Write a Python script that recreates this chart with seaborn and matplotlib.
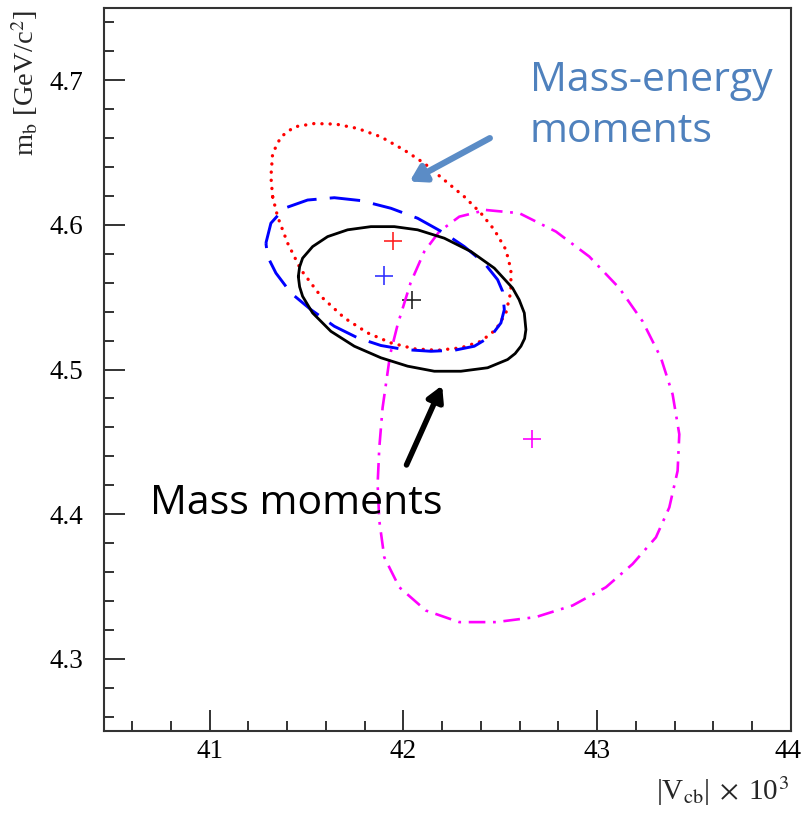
import numpy as np
import pandas as pd
import matplotlib
matplotlib.use("Agg")
import matplotlib.pyplot as plt
import matplotlib.patheffects as pe
import matplotlib.transforms as mtransforms
import seaborn as sns

# ---------------- data ----------------
# Contours in (|Vcb| x 1e3, m_b [GeV/c^2])
black_x = [41.4577, 41.4644, 41.4799, 41.5315, 41.6089, 41.7121, 41.8323, 41.9530, 42.0733,
           42.2111, 42.3483, 42.4690, 42.5635, 42.5970, 42.6238, 42.6321, 42.6254, 42.6063,
           42.5764, 42.5377, 42.4345, 42.2967, 42.1594, 42.0217, 41.8839, 41.7466, 41.6259,
           41.5315, 41.4799, 41.4644]
black_y = [4.5643, 4.5710, 4.5770, 4.5850, 4.5919, 4.5966, 4.5988, 4.5988, 4.5966,
           4.5908, 4.5816, 4.5701, 4.5563, 4.5483, 4.5391, 4.5276, 4.5214, 4.5161,
           4.5110, 4.5069, 4.5012, 4.4988, 4.4988, 4.5023, 4.5081, 4.5161, 4.5264,
           4.5391, 4.5506, 4.5572]

blue_x = [41.2905, 41.3163, 41.3854, 41.5057, 41.6434, 41.7807, 41.9355, 42.0733, 42.2111,
          42.3143, 42.4174, 42.4861, 42.5119, 42.5207, 42.5031, 42.4515, 42.3658, 42.2627,
          42.1419, 42.0046, 41.8839, 41.7637, 41.6434, 41.5227, 41.4195, 41.3421, 41.2993]
blue_y = [4.5874, 4.6012, 4.6115, 4.6172, 4.6188, 4.6168, 4.6115, 4.6046, 4.5943,
          4.5850, 4.5736, 4.5621, 4.5540, 4.5414, 4.5322, 4.5230, 4.5161, 4.5133,
          4.5126, 4.5138, 4.5166, 4.5219, 4.5299, 4.5414, 4.5529, 4.5667, 4.5781]

red_x = [41.3251, 41.3163, 41.3251, 41.3679, 41.4370, 41.5402, 41.6517, 41.7637, 41.8839,
         42.0046, 42.1078, 42.2111, 42.3143, 42.4000, 42.4690, 42.5289, 42.5547, 42.5547,
         42.5289, 42.4773, 42.4000, 42.2967, 42.1765, 42.0563, 41.9355, 41.8153, 41.6950,
         41.5743, 41.4711, 41.4025, 41.3509]
red_y = [4.6195, 4.6333, 4.6494, 4.6609, 4.6678, 4.6701, 4.6697, 4.6667, 4.6609,
         4.6517, 4.6426, 4.6310, 4.6195, 4.6081, 4.5966, 4.5828, 4.5690, 4.5540,
         4.5391, 4.5276, 4.5195, 4.5150, 4.5133, 4.5143, 4.5184, 4.5253, 4.5357,
         4.5506, 4.5690, 4.5874, 4.6057]

mag_x = [42.4257, 42.5980, 42.7869, 42.9592, 43.1140, 43.2343, 43.3287, 43.3891, 43.4236,
         43.4149, 43.3720, 43.3029, 43.1827, 43.0449, 42.8731, 42.6837, 42.4773, 42.2884,
         42.1161, 41.9788, 41.9014, 41.8756, 41.8669, 41.8756, 41.8926, 41.9314, 41.9701,
         42.0372, 42.1078, 42.1852, 42.2884]
mag_y = [4.6103, 4.6081, 4.5954, 4.5781, 4.5563, 4.5333, 4.5081, 4.4828, 4.4552,
         4.4299, 4.4046, 4.3839, 4.3655, 4.3494, 4.3368, 4.3288, 4.3253, 4.3253,
         4.3333, 4.3494, 4.3701, 4.3954, 4.4207, 4.4460, 4.4736, 4.5103, 4.5310,
         4.5600, 4.5816, 4.5954, 4.6057]

# best-fit points
centre_names = ["black", "blue", "red", "magenta"]
centre_x = [42.042, 41.901, 41.944, 42.663]
centre_y = [4.548, 4.565, 4.589, 4.452]

x_ticks = [41, 42, 43, 44]
y_ticks = [4.3, 4.4, 4.5, 4.6, 4.7]

# ---------------- style ----------------
sns.set_style("white")
plt.rcParams["font.family"] = ["Liberation Serif", "DejaVu Serif"]
plt.rcParams["mathtext.fontset"] = "stix"
plt.rcParams["lines.scale_dashes"] = False

fig = plt.figure(figsize=(8.02, 8.15), dpi=100)
ax = fig.add_axes([104 / 802, 1 - 731 / 815, (791 - 104) / 802, (731 - 8) / 815])


def closed(xs, ys):
    return pd.DataFrame({"x": list(xs) + [xs[0]], "y": list(ys) + [ys[0]]})


sns.lineplot(data=closed(mag_x, mag_y), x="x", y="y", sort=False, estimator=None, ax=ax,
             color="#FF00FF", lw=1.9, linestyle=(0, (12, 5.5, 2, 5.5)),
             solid_joinstyle="round")
sns.lineplot(data=closed(red_x, red_y), x="x", y="y", sort=False, estimator=None, ax=ax,
             color="#FF0000", lw=2.4, linestyle=(0, (0.1, 5.8)), dash_capstyle="round")
sns.lineplot(data=closed(blue_x, blue_y), x="x", y="y", sort=False, estimator=None, ax=ax,
             color="#0000FF", lw=2.1, linestyle=(0, (22, 9.5)))
sns.lineplot(data=closed(black_x, black_y), x="x", y="y", sort=False, estimator=None, ax=ax,
             color="black", lw=2.0, solid_joinstyle="round")

cdf = pd.DataFrame({"name": centre_names, "x": centre_x, "y": centre_y})
sns.scatterplot(data=cdf, x="x", y="y", hue="name",
                palette={"black": "#222222", "blue": "#3333FF", "red": "#FF2222", "magenta": "#FF00FF"},
                marker="+", s=170, linewidth=1.2, legend=False, ax=ax)

ax.set_xlim(40.455, 44.0)
ax.set_ylim(4.25, 4.75)
ax.set_xticks(x_ticks)
ax.set_yticks(y_ticks)
ax.set_xticklabels([f"{v:g}" for v in x_ticks])
ax.set_yticklabels([f"{v:.1f}" for v in y_ticks])
ax.xaxis.set_minor_locator(matplotlib.ticker.MultipleLocator(0.2))
ax.yaxis.set_minor_locator(matplotlib.ticker.MultipleLocator(0.02))
ax.tick_params(which="both", direction="in", bottom=True, left=True, top=False, right=False,
               color="#333333", width=1.4, labelsize=19.5, labelcolor="black")
ax.tick_params(which="major", length=15)
ax.tick_params(which="minor", length=7.5)
ax.tick_params(axis="x", which="major", pad=6)
ax.tick_params(axis="y", which="major", pad=15)
for s in ax.spines.values():
    s.set_visible(True)
    s.set_color("#333333")
    s.set_linewidth(1.5)
ax.set_xlabel("")
ax.set_ylabel("")

# keep the last x tick label inside the canvas
last = ax.get_xticklabels()[-1]
last.set_transform(last.get_transform() +
                   mtransforms.ScaledTranslation(-3 / 100, 0, fig.dpi_scale_trans))

fig.text(0.030, 0.988, r"m$_{\mathrm{b}}$ [GeV/c$^{2}$]", rotation=90, ha="center", va="top",
         fontsize=20.5)
fig.text(789 / 802, 1 - 800 / 815, r"|V$_{\mathrm{cb}}$|$\;\times\;$10$^{3}$", ha="right",
         va="baseline", fontsize=21)

# annotations
ann_font = ["Open Sans", "DejaVu Sans"]
ax.text(42.651, 4.714, "Mass-energy\nmoments", color="#4F81BD", fontsize=29.5,
        family=ann_font, ha="left", va="top", linespacing=1.36)
ax.text(40.69, 4.421, "Mass moments", color="black", fontsize=29.5,
        family=ann_font, ha="left", va="top")

ax.annotate("", xy=(42.032, 4.630), xytext=(42.446, 4.660),
            arrowprops=dict(arrowstyle="-|>,head_length=0.9,head_width=0.55", lw=4.5,
                            color="#5B8CC6", shrinkA=0, shrinkB=0,
                            path_effects=[pe.SimplePatchShadow(offset=(2, -2), alpha=0.3),
                                          pe.Normal()]))
ax.annotate("", xy=(42.200, 4.489), xytext=(42.016, 4.434),
            arrowprops=dict(arrowstyle="-|>,head_length=0.9,head_width=0.5", lw=4,
                            color="black", shrinkA=0, shrinkB=0,
                            path_effects=[pe.SimplePatchShadow(offset=(2, -2), alpha=0.3),
                                          pe.Normal()]))

fig.savefig("out.png", dpi=100)
